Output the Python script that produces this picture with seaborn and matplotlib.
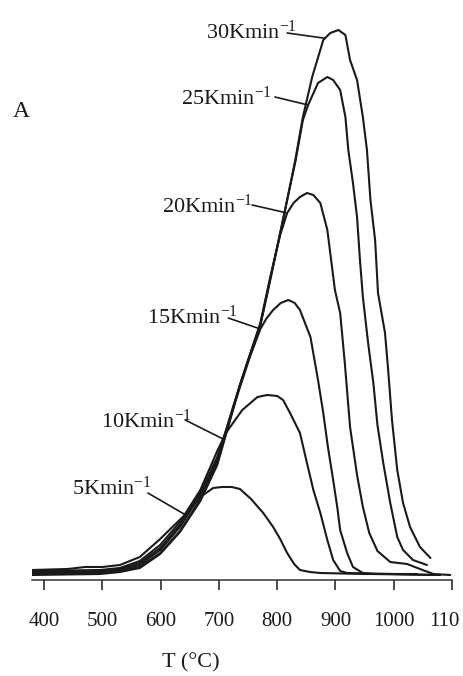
import numpy as np
import pandas as pd
import matplotlib
matplotlib.use('Agg')
import matplotlib.pyplot as plt
from matplotlib.transforms import ScaledTranslation
import seaborn as sns

# DTA curves (T in °C, signal in arbitrary units)
rates = ['5', '10', '15', '20', '25', '30']

t_5 = [379, 440, 470, 500, 530, 564, 599, 620, 645, 668, 690, 705, 722, 736, 755, 776, 793, 805, 817, 829, 839, 856, 874, 950, 1040]
s_5 = [5, 6, 8, 8, 10, 18, 36, 48, 62, 78, 87, 88, 88, 86, 76, 62, 48, 36, 22, 11, 5, 3, 2, 1, 1]

t_10 = [379, 496, 530, 564, 599, 633, 668, 697, 712, 724, 740, 766, 783, 800, 810, 822, 839, 851, 862, 874, 886, 896, 908, 920, 1000, 1070]
s_10 = [4, 5, 7, 14, 30, 53, 85, 124, 142, 152, 165, 178, 180, 179, 175, 162, 142, 112, 85, 62, 35, 15, 4, 2, 1, 0]

t_15 = [379, 496, 530, 564, 599, 633, 668, 697, 724, 736, 753, 771, 782, 793, 806, 819, 830, 839, 857, 870, 879, 887, 896, 903, 908, 920, 930, 947, 965, 1080]
s_15 = [3, 4, 6, 12, 27, 50, 82, 118, 166, 188, 218, 246, 257, 265, 272, 275, 272, 265, 238, 195, 162, 128, 95, 68, 45, 22, 8, 2, 1, 0]

t_20 = [379, 496, 530, 564, 599, 633, 668, 697, 724, 736, 753, 771, 788, 805, 817, 828, 839, 851, 862, 874, 886, 891, 899, 908, 916, 925, 937, 947, 958, 972, 994, 1023, 1045, 1068, 1097]
s_20 = [2, 3, 5, 10, 25, 48, 80, 115, 168, 190, 220, 252, 298, 340, 362, 372, 378, 382, 380, 372, 345, 322, 285, 262, 212, 148, 100, 68, 42, 24, 13, 11, 6, 1, 0]

t_25 = [379, 496, 530, 564, 599, 633, 668, 697, 724, 736, 753, 771, 788, 810, 831, 844, 853, 870, 886, 896, 908, 917, 922, 930, 937, 942, 947, 956, 965, 972, 982, 994, 1006, 1016, 1033, 1057]
s_25 = [1, 2, 4, 8, 22, 44, 76, 112, 166, 190, 220, 250, 296, 356, 413, 455, 470, 492, 498, 495, 485, 458, 425, 392, 358, 315, 278, 232, 192, 150, 112, 72, 38, 25, 15, 10]

t_30 = [379, 496, 530, 564, 599, 633, 668, 697, 724, 736, 753, 771, 788, 810, 831, 844, 860, 879, 891, 905, 917, 925, 937, 947, 954, 960, 968, 973, 985, 990, 997, 1006, 1016, 1028, 1045, 1063]
s_30 = [0, 1, 3, 7, 21, 43, 74, 110, 165, 190, 220, 250, 295, 355, 415, 458, 498, 535, 542, 545, 540, 515, 495, 458, 425, 375, 335, 282, 242, 208, 155, 105, 72, 48, 28, 17]

temps = [t_5, t_10, t_15, t_20, t_25, t_30]
signals = [s_5, s_10, s_15, s_20, s_25, s_30]

x_ticks = [400, 500, 600, 700, 800, 900, 1000, 1100]
# the last label is cut at the right edge in the source figure
x_tick_labels = ['400', '500', '600', '700', '800', '900', '1000', '110']

# curve labels: text right edge / baseline, leader start, leader end (T on curve)
label_pos = [(585, 80), (654, 147), (733, 251), (758, 362), (791, 470), (834, 536)]
leader_start = [(578, 82), (642, 155), (716, 257), (757, 370), (796, 478), (817, 542)]
leader_end_t = [642, 707, 771, 817, 853, 882]

df = pd.concat([pd.DataFrame({'T': t, 'signal': s, 'rate': r})
                for r, t, s in zip(rates, temps, signals)], ignore_index=True)

sns.set_style('white')
plt.rcParams['font.family'] = ['Liberation Serif', 'DejaVu Serif']
plt.rcParams['mathtext.fontset'] = 'custom'
plt.rcParams['mathtext.rm'] = 'Liberation Serif'
plt.rcParams['mathtext.default'] = 'regular'

ink = '#1a1a1a'
fig = plt.figure(figsize=(4.64, 6.76), dpi=100)
ax = fig.add_axes([32 / 464, 96 / 676, 420 / 464, 570 / 676])

sns.lineplot(data=df, x='T', y='signal', units='rate', estimator=None, sort=False,
             color=ink, linewidth=1.5, ax=ax, legend=False)

for r, t, s, (tx, ty), (lx, ly), ex in zip(rates, temps, signals, label_pos, leader_start, leader_end_t):
    ey = np.interp(ex, t, s)
    ax.plot([lx, ex], [ly, ey], color=ink, linewidth=1.2)
    ax.text(tx, ty, r + r'Kmin$^{-1}$', ha='right', va='baseline', fontsize=16, color=ink)

ax.set_xlim(379, 1100)
ax.set_ylim(-5, 565)
ax.tick_params(axis='x', direction='out', length=7, width=1.1, pad=16,
               labelsize=15, colors=ink, bottom=True)
ax.set_xticks(x_ticks, x_tick_labels)
ax.set_yticks([])
last = ax.get_xticklabels()[-1]
last.set_transform(last.get_transform() + ScaledTranslation(-0.08, 0, fig.dpi_scale_trans))

for side in ['top', 'left', 'right']:
    ax.spines[side].set_visible(False)
ax.spines['bottom'].set_color('#333333')
ax.spines['bottom'].set_linewidth(1.1)

ax.set_xlabel('T (°C)', fontsize=16, color=ink, va='center')
ax.xaxis.set_label_coords(0.379, -0.1456)
ax.set_ylabel('')

fig.text(13 / 464, (676 - 117) / 676, 'A', fontsize=17, color=ink, ha='left', va='baseline')

fig.savefig('out.png', dpi=100)
